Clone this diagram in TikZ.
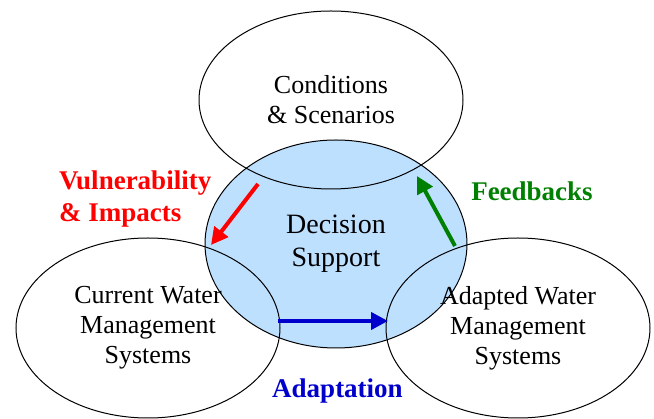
\documentclass[tikz,border=0pt]{standalone}
\usepackage{fontspec}
\newfontfamily\tnr{Liberation Serif}
\usetikzlibrary{shapes.geometric,arrows.meta}
\definecolor{dsblue}{RGB}{190,224,255}
\definecolor{arrred}{RGB}{255,0,0}
\definecolor{arrgreen}{RGB}{0,128,0}
\definecolor{arrblue}{RGB}{0,0,204}
\begin{document}
\begin{tikzpicture}[x=1pt,y=-1pt,
  circ/.style={ellipse, draw=black, line width=1pt, inner sep=0pt,
    minimum width=264pt, minimum height=180pt, align=center},
  arr/.style={line width=4pt, -{Triangle[length=17pt,width=17pt]}},
  lab/.style={inner sep=0pt}]
\useasboundingbox (0,0) rectangle (654,419);
\node[circ, fill=dsblue, minimum width=262pt, minimum height=208pt,
  font=\tnr\fontsize{28}{33}\selectfont] (ds) at (336,244) {Decision\\Support};
\node[circ, minimum height=178pt, font=\tnr\fontsize{26}{30}\selectfont] (cs) at (331,100) {Conditions\\\& Scenarios};
\node[circ, font=\tnr\fontsize{26}{30}\selectfont] (cur) at (148,328) {Current Water\\Management\\Systems};
\node[circ, font=\tnr\fontsize{26}{30}\selectfont] (ad) at (518,328) {Adapted Water\\Management\\Systems};
\coordinate (vA) at (258,184);
\coordinate (vB) at (211,245);
\coordinate (fA) at (455,246);
\coordinate (fB) at (417,176);
\coordinate (aA) at (278,321);
\coordinate (aB) at (388,321);
\draw[arr, arrred] (vA) -- (vB);
\draw[arr, arrgreen] (fA) -- (fB);
\draw[arr, arrblue] (aA) -- (aB);
\node[lab, text=arrred, align=left, anchor=west, font=\tnr\bfseries\fontsize{27}{32}\selectfont] (vul) at (59,199) {Vulnerability\\\& Impacts};
\node[lab, text=arrgreen, font=\tnr\bfseries\fontsize{27}{32}\selectfont] (fb) at (532,191) {Feedbacks};
\node[lab, text=arrblue, font=\tnr\bfseries\fontsize{27}{32}\selectfont] (adp) at (337.5,391) {Adaptation};
\end{tikzpicture}
\end{document}
